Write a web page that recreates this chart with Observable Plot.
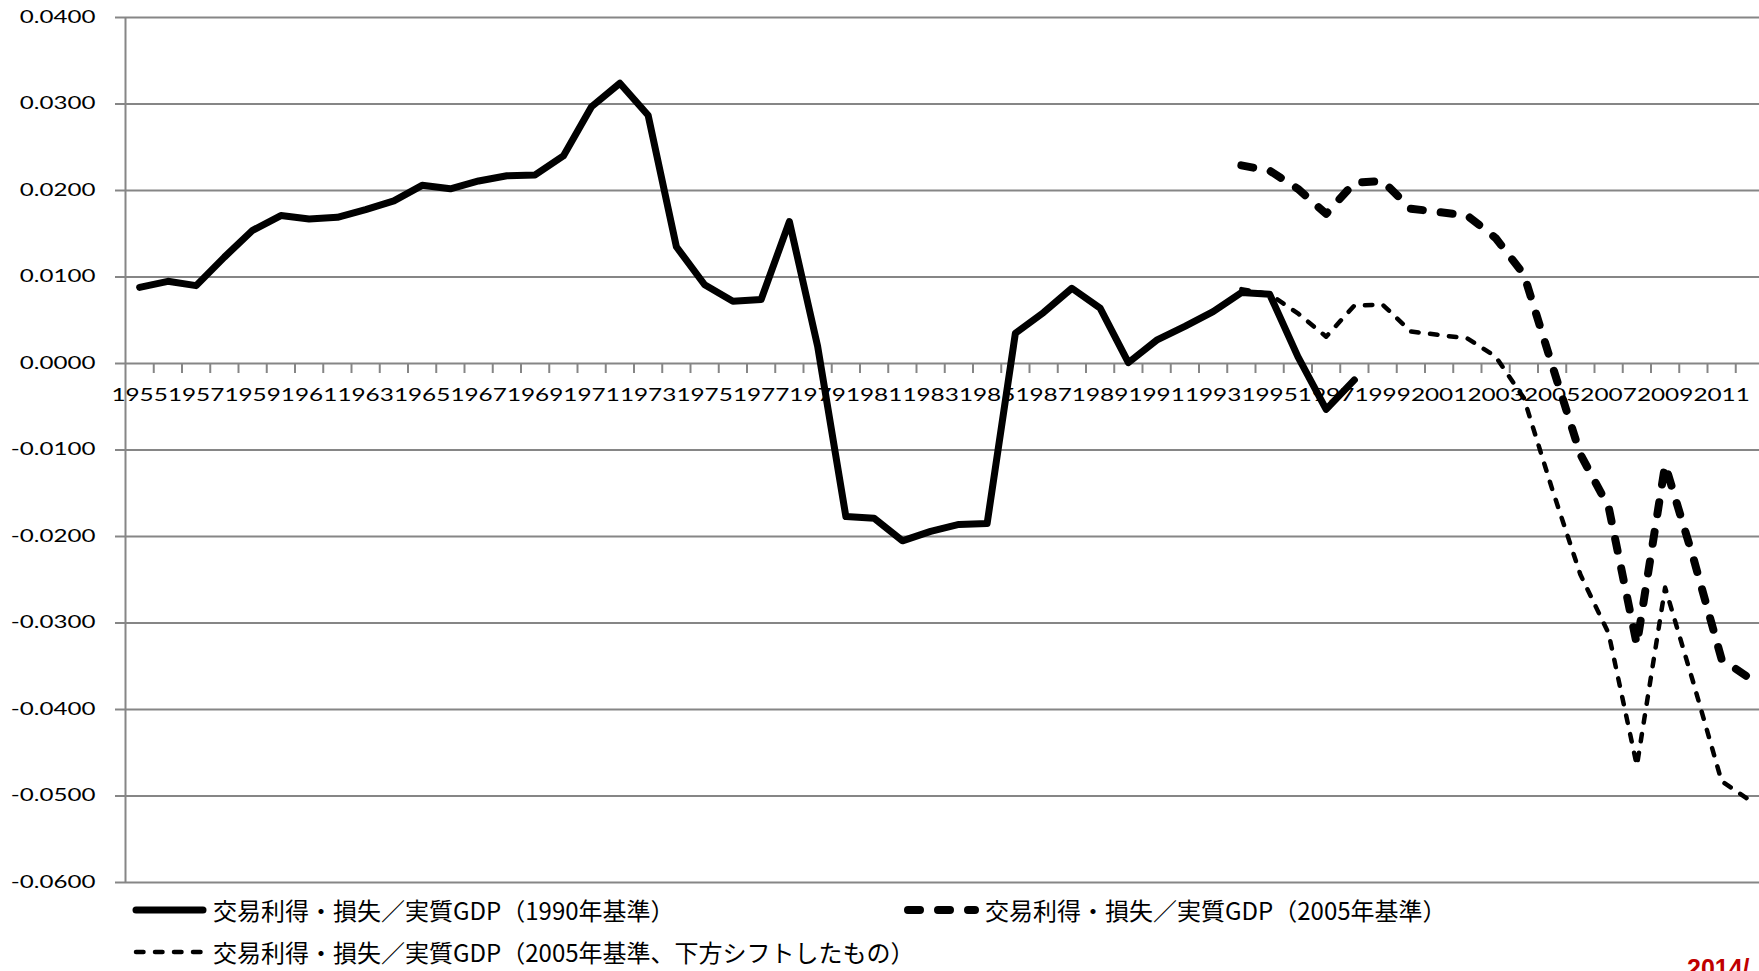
<!DOCTYPE html>
<html><head><meta charset="utf-8">
<script src="https://cdn.jsdelivr.net/npm/d3@7"></script>
<script src="https://cdn.jsdelivr.net/npm/@observablehq/plot@0.6"></script>
<style>
html,body{margin:0;padding:0;background:#fff;width:1759px;height:971px;overflow:hidden;}
#chart{position:absolute;left:0;top:0;}
.leg{position:absolute;font-family:"Noto Sans CJK JP";font-size:24px;line-height:28px;height:28px;color:#000;white-space:nowrap;display:flex;align-items:center;}
.leg svg{display:block;margin-right:2px;}
#stamp{position:absolute;left:1687px;top:954px;font-family:"Liberation Sans",Arial,sans-serif;font-weight:bold;font-size:25px;color:#c00000;white-space:nowrap;}
</style></head><body>
<div id="chart"></div>
<div id="legend"></div>
<div id="stamp">2014/</div>
<script>
// ---- data ----
const years1990 = [1955,1956,1957,1958,1959,1960,1961,1962,1963,1964,1965,1966,1967,1968,1969,1970,1971,1972,1973,1974,1975,1976,1977,1978,1979,1980,1981,1982,1983,1984,1985,1986,1987,1988,1989,1990,1991,1992,1993,1994,1995,1996,1997,1998];
const values1990 = [0.0088,0.0095,0.0090,0.0123,0.0154,0.0171,0.0167,0.0169,0.0178,0.0188,0.0206,0.0202,0.0211,0.0217,0.0218,0.0240,0.0297,0.0324,0.0287,0.0135,0.0091,0.0072,0.0074,0.0164,0.0020,-0.0177,-0.0179,-0.0205,-0.0194,-0.0186,-0.0185,0.0035,0.0059,0.0087,0.0064,0.0001,0.0027,0.0043,0.0060,0.0082,0.0080,0.0008,-0.0053,-0.0019];
const years2005 = [1994,1995,1996,1997,1998,1999,2000,2001,2002,2003,2004,2005,2006,2007,2008,2009,2010,2011,2012];
const values2005 = [0.0229,0.0223,0.0202,0.0173,0.0209,0.0211,0.0179,0.0175,0.0171,0.0145,0.0103,-0.0002,-0.0105,-0.0166,-0.0325,-0.0117,-0.0225,-0.0342,-0.0364];
const valuesShifted = [0.0086,0.0080,0.0058,0.0031,0.0067,0.0068,0.0037,0.0033,0.0029,0.0008,-0.0040,-0.0145,-0.0244,-0.0312,-0.0465,-0.0259,-0.0369,-0.0483,-0.0505];
const categoryYears = [1955,1956,1957,1958,1959,1960,1961,1962,1963,1964,1965,1966,1967,1968,1969,1970,1971,1972,1973,1974,1975,1976,1977,1978,1979,1980,1981,1982,1983,1984,1985,1986,1987,1988,1989,1990,1991,1992,1993,1994,1995,1996,1997,1998,1999,2000,2001,2002,2003,2004,2005,2006,2007,2008,2009,2010,2011,2012];
const xTickLabels = [1955,1957,1959,1961,1963,1965,1967,1969,1971,1973,1975,1977,1979,1981,1983,1985,1987,1989,1991,1993,1995,1997,1999,2001,2003,2005,2007,2009,2011];
const yTicks = [-0.06,-0.05,-0.04,-0.03,-0.02,-0.01,0,0.01,0.02,0.03,0.04];
const seriesNames = ["交易利得・損失／実質GDP（1990年基準）","交易利得・損失／実質GDP（2005年基準）","交易利得・損失／実質GDP（2005年基準、下方シフトしたもの）"];

const s1990 = years1990.map((y,i)=>({year:y, v:values1990[i]}));
const s2005 = years2005.map((y,i)=>({year:y, v:values2005[i]}));
const sShift = years2005.map((y,i)=>({year:y, v:valuesShifted[i]}));
const boundaries = categoryYears.map(y=>y+0.5);

const GRID = "#868686";
const font = "Lato, 'DejaVu Sans', sans-serif";

const chart = Plot.plot({
  width: 1759,
  height: 895,
  marginLeft: 125,
  marginRight: 0,
  marginTop: 17,
  marginBottom: 13,
  style: {fontFamily: font, background: "#fff", overflow: "visible"},
  x: {domain: [1954.5, 2012.5], range: [125, 1763.5], axis: null},
  y: {domain: [-0.06, 0.04], range: [882, 17]},
  marks: [
    Plot.gridY(yTicks, {stroke: GRID, strokeOpacity: 1, strokeWidth: 2}),
    Plot.axisY(yTicks, {tickSize: 10, tickPadding: 20, stroke: GRID, strokeWidth: 2, strokeOpacity: 1,
      tickFormat: d => d.toFixed(4), fontSize: 17, fill: "#000", label: null}),
    Plot.ruleX([1954.5], {stroke: GRID, strokeWidth: 2}),
    Plot.ruleX(boundaries, {x: d => d, y1: 0, y2: 0, insetBottom: -10, stroke: GRID, strokeWidth: 2}),
    Plot.text(xTickLabels, {x: d => d, y: 0, dy: 32, text: d => String(d), fontSize: 18, fill: "#000", fontFamily: font}),
    Plot.line(s1990, {x: "year", y: "v", stroke: "#000", strokeWidth: 7, strokeLinejoin: "round", strokeLinecap: "round"}),
    Plot.line(s2005, {x: "year", y: "v", stroke: "#000", strokeWidth: 8, strokeLinejoin: "round", strokeLinecap: "round", strokeDasharray: "12,18"}),
    Plot.line(sShift, {x: "year", y: "v", stroke: "#000", strokeWidth: 4.5, strokeLinejoin: "round", strokeLinecap: "round", strokeDasharray: "7.5,11.5"})
  ]
});
document.getElementById("chart").appendChild(chart);

// stretch tick labels horizontally like the reference
d3.select(chart).selectAll('g[aria-label="text"] text').each(function(){
  this.setAttribute("textLength", 56.5);
  this.setAttribute("lengthAdjust", "spacingAndGlyphs");
});
d3.select(chart).selectAll('g[aria-label="y-axis tick label"] text').each(function(){
  const L = this.getComputedTextLength();
  this.setAttribute("textLength", L * 1.42);
  this.setAttribute("lengthAdjust", "spacingAndGlyphs");
});

// legend
const legendItems = [
  {name: seriesNames[0], left: 131, top: 896, w: 7, dash: null},
  {name: seriesNames[1], left: 903, top: 896, w: 8, dash: "12,18"},
  {name: seriesNames[2], left: 131, top: 938, w: 4.5, dash: "7.5,11.5"}
];
const leg = d3.select("#legend");
legendItems.forEach(it => {
  const div = leg.append("div").attr("class","leg").style("left", it.left+"px").style("top", it.top+"px");
  const sv = div.append("svg").attr("width", 80).attr("height", 28);
  sv.append("line").attr("x1", 5).attr("x2", 72).attr("y1", 14).attr("y2", 14)
    .attr("stroke", "#000").attr("stroke-width", it.w).attr("stroke-linecap", "round")
    .attr("stroke-dasharray", it.dash);
  div.append("span").text(it.name);
});
</script>
</body></html>
